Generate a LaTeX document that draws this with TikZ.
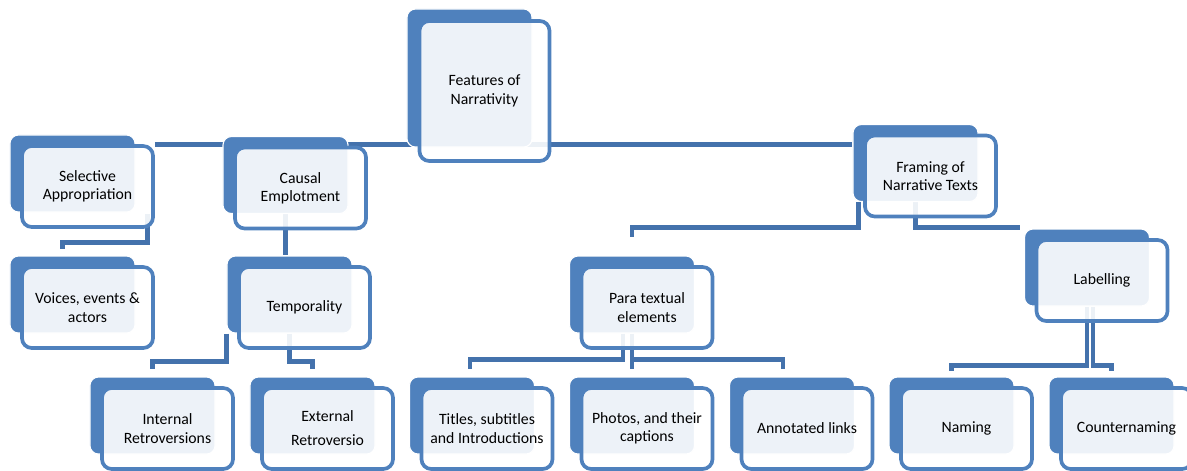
\documentclass[tikz,border=0pt]{standalone}
\usepackage{fontspec}
\setmainfont{Carlito}
\usetikzlibrary{backgrounds}
\definecolor{boxblue}{RGB}{79,129,189}
\definecolor{linkblue}{RGB}{68,114,172}

\begin{document}
\begin{tikzpicture}[
    x=0.025cm, y=-0.025cm,
    back/.style={draw=white, line width=0.8pt, fill=boxblue, rounded corners=6pt,
                 minimum width=3.125cm, minimum height=1.925cm, inner sep=0pt},
    front/.style={draw=boxblue, line width=2.6pt, fill=white, fill opacity=0.9,
                  text opacity=1, rounded corners=7pt,
                  minimum width=3.275cm, minimum height=2.025cm, inner sep=0pt,
                  align=center, font=\fontsize{11.2}{13}\selectfont},
    link/.style={draw=linkblue, line width=3.4pt}
]
\useasboundingbox (0,0) rectangle (1187,470);

% Top
\node[back, minimum height=3.45cm] (root-b) at (469.5,78) {};
\node[front, minimum width=3.25cm, minimum height=3.5cm] (root) at ([shift={(15,13)}]root-b) {Features of\\Narrativity};

% Level 1
\node[back] (sel-b) at (72.5,173.5) {};
\node[front] (sel) at ([shift={(15,13)}]sel-b) {Selective\\Appropriation};
\node[back] (cau-b) at (285.5,175) {};
\node[front] (cau) at ([shift={(15,13)}]cau-b) {Causal\\Emplotment};
\node[back] (frm-b) at (915.5,163) {};
\node[front] (frm) at ([shift={(15,13)}]frm-b) {Framing of\\Narrative Texts};

% Level 2
\node[back] (voi-b) at (72.5,294.5) {};
\node[front] (voi) at ([shift={(15,13)}]voi-b) {Voices, events \&\\actors};
\node[back] (tmp-b) at (289.5,294.5) {};
\node[front] (tmp) at ([shift={(15,13)}]tmp-b) {Temporality};
\node[back] (par-b) at (632,294.5) {};
\node[front] (par) at ([shift={(15,13)}]par-b) {Para textual\\elements};
\node[back] (lab-b) at (1087,267.5) {};
\node[front] (lab) at ([shift={(15,13)}]lab-b) {Labelling};

% Level 3
\node[back] (int-b) at (152.5,415.5) {};
\node[front] (int) at ([shift={(15,13)}]int-b) {Internal\\Retroversions};
\node[back] (ext-b) at (312.5,415.5) {};
\node[front] (ext) at ([shift={(15,13)}]ext-b) {External\\[4pt]Retroversio};
\node[back] (tit-b) at (472,415.5) {};
\node[front] (tit) at ([shift={(15,13)}]tit-b) {Titles, subtitles\\and Introductions};
\node[back] (pho-b) at (632,415.5) {};
\node[front] (pho) at ([shift={(15,13)}]pho-b) {Photos, and their\\captions};
\node[back] (ann-b) at (792,415.5) {};
\node[front] (ann) at ([shift={(15,13)}]ann-b) {Annotated links};
\node[back] (nam-b) at (951.5,415.5) {};
\node[front] (nam) at ([shift={(15,13)}]nam-b) {Naming};
\node[back] (cnt-b) at (1111.5,415.5) {};
\node[front] (cnt) at ([shift={(15,13)}]cnt-b) {Counternaming};

% Connectors
\begin{scope}[on background layer]
\draw[link] (sel.north east) -- (sel.north east -| frm-b.west);
\draw[link] ([shift={(-7,-15)}]sel.south east) |- ([shift={(-10,-13)}]voi-b.north) -- ([shift={(-10,-6)}]voi-b.north);
\draw[link] (cau-b.south) -- (cau-b.south |- tmp-b.north);
\draw[link] (tmp-b.south west) |- ([shift={(0,-15)}]int-b.north) -- ([shift={(0,-7)}]int-b.north);
\draw[link] (tmp-b.south) |- ([shift={(0,-15)}]ext-b.north) -- ([shift={(0,-7)}]ext-b.north);
\draw[link] ([shift={(6,0)}]frm-b.south west) |- ([shift={(0,-28)}]par-b.north) -- ([shift={(0,-18)}]par-b.north);
\draw[link] (frm-b.south) |- ([shift={(-4,-1)}]lab-b.north west);
\draw[link] ([shift={(-9,0)}]par-b.south) |- ([shift={(-2,-17)}]tit-b.north) -- ([shift={(-2,-7)}]tit-b.north);
\draw[link] (par-b.south) -- ([shift={(0,-7)}]pho-b.north);
\draw[link] (par-b.south) |- ([shift={(-9,-17)}]ann-b.north) -- ([shift={(-9,-7)}]ann-b.north);
\draw[link] (lab-b.south) |- ([shift={(0,-11)}]nam-b.north) -- ([shift={(0,-5)}]nam-b.north);
\draw[link] ([shift={(6,0)}]lab-b.south) |- ([shift={(0,-11)}]cnt-b.north) -- ([shift={(0,-5)}]cnt-b.north);
\end{scope}

\end{tikzpicture}
\end{document}
